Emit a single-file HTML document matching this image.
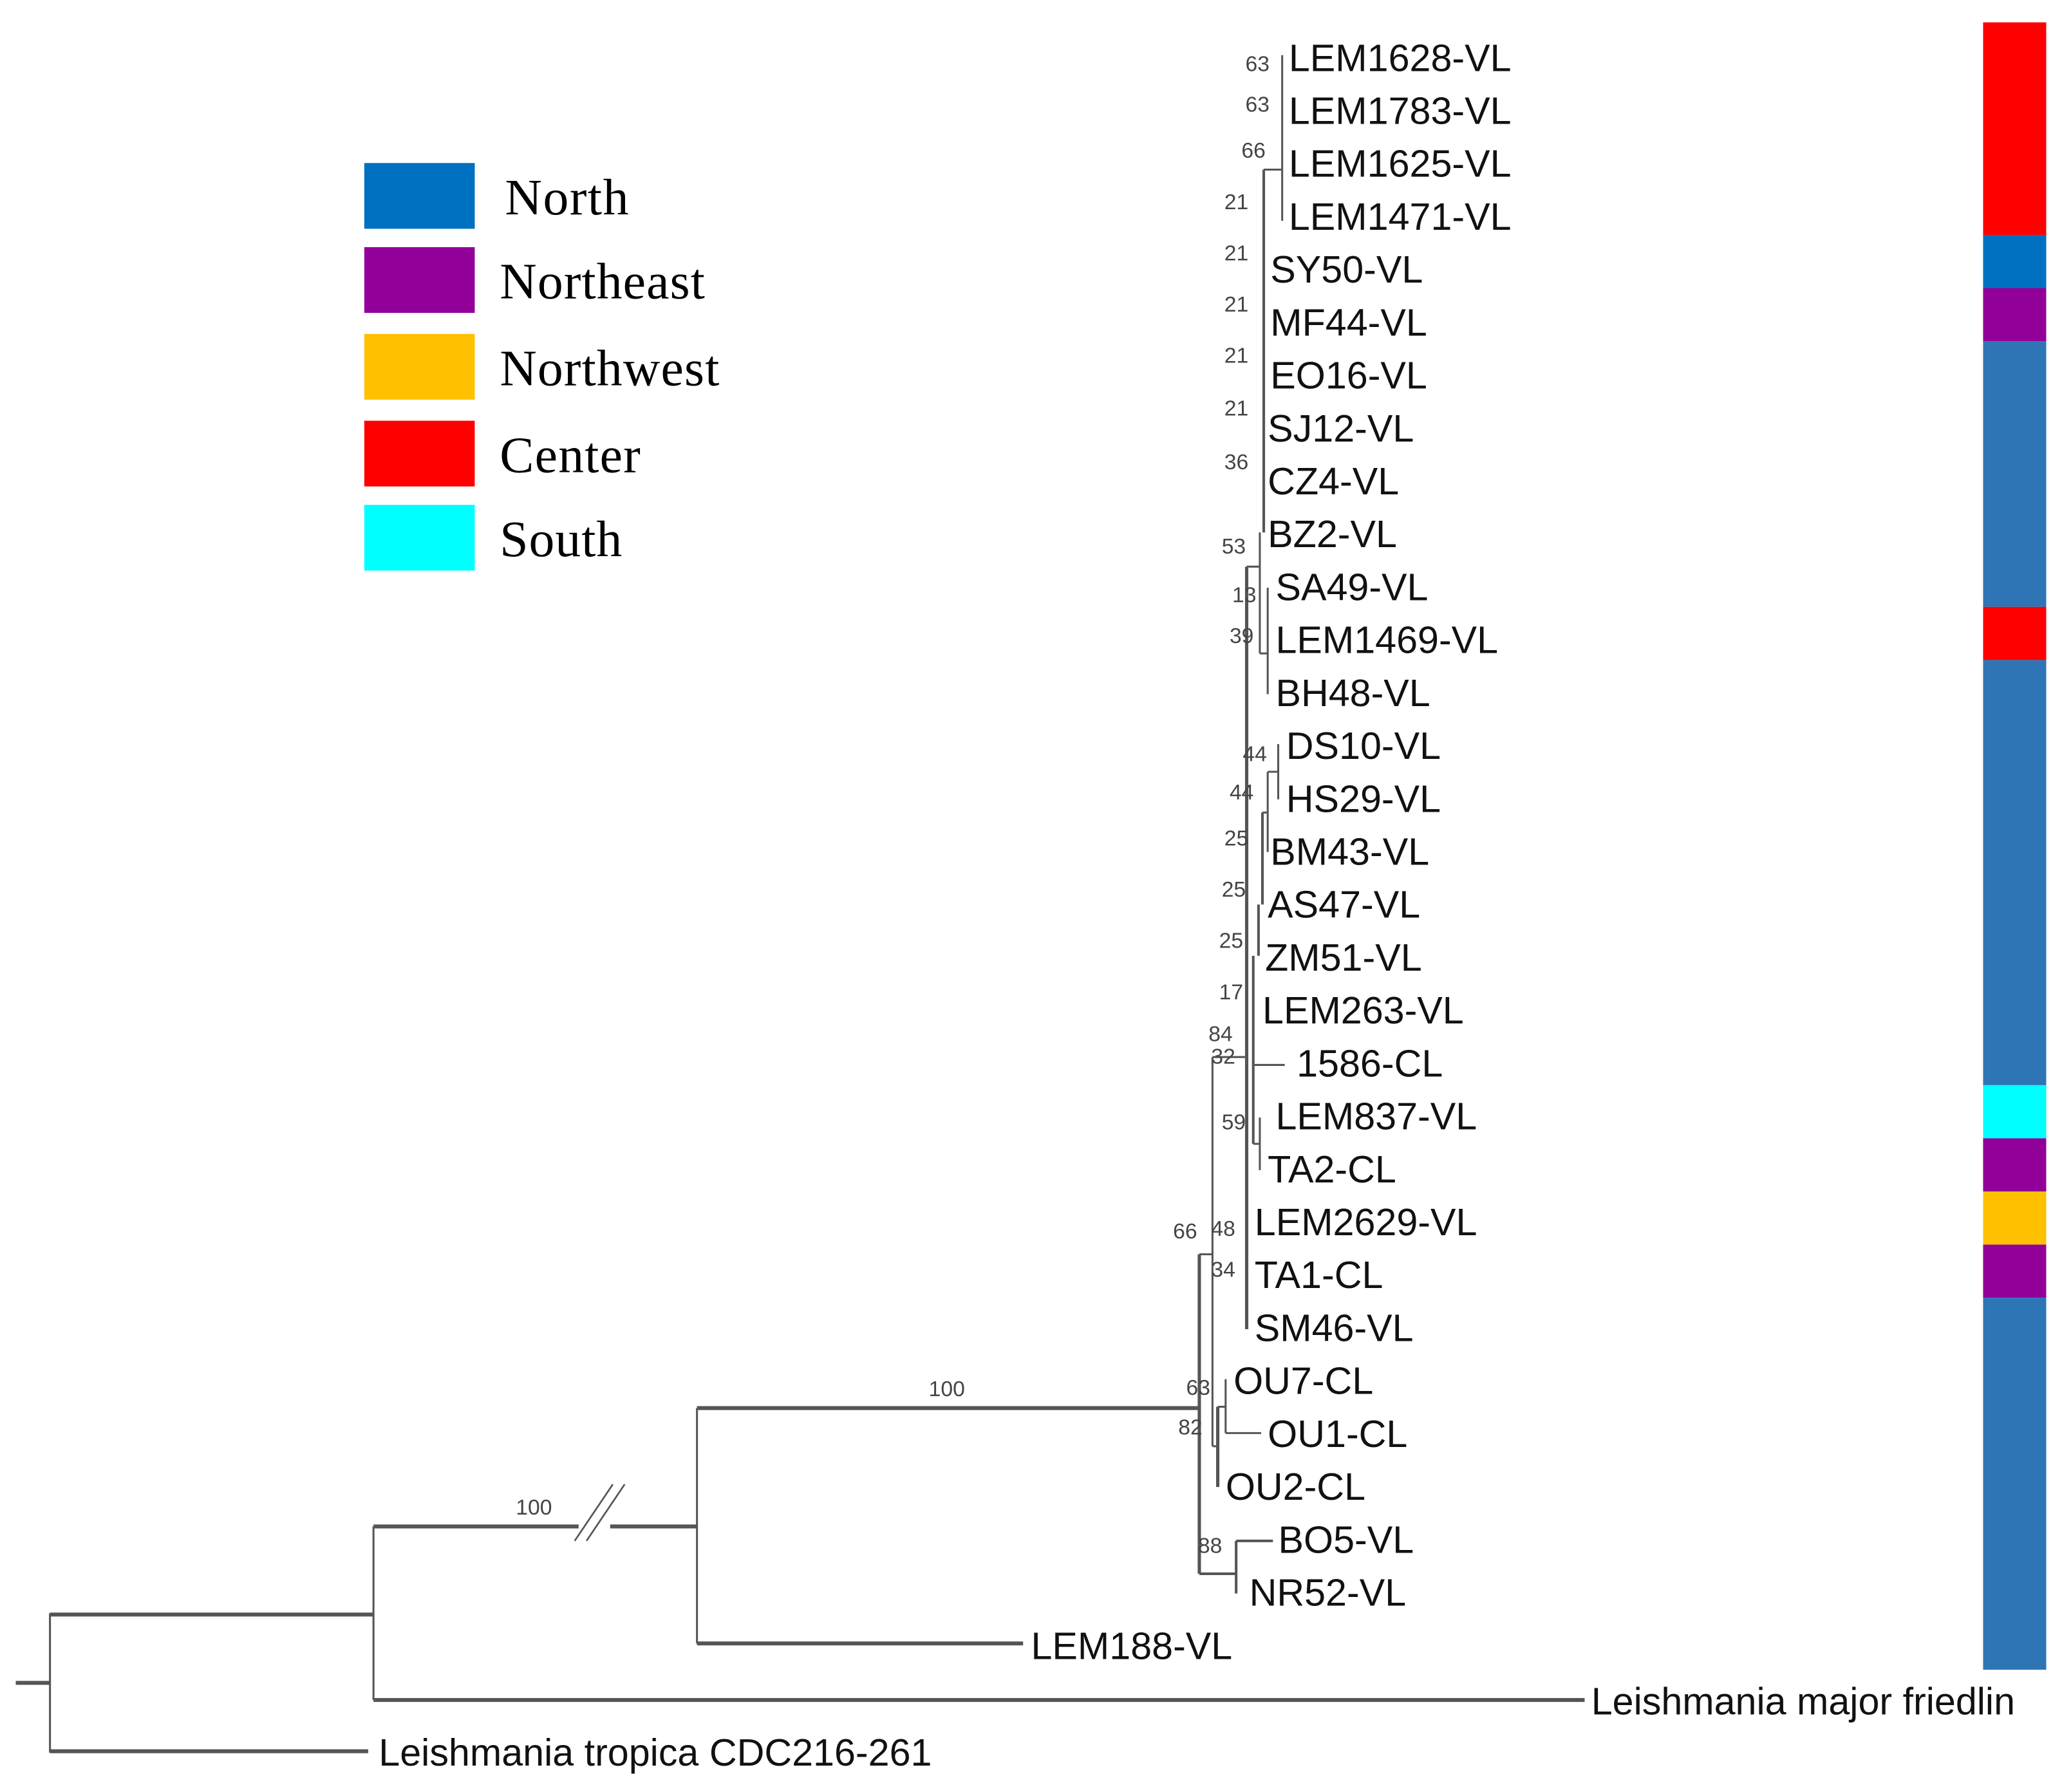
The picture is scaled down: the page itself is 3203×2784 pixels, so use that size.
<!DOCTYPE html>
<html><head><meta charset="utf-8">
<style>
html,body{margin:0;padding:0;background:#fff;}
svg{display:block;}
.leaf{font-family:"Liberation Sans",sans-serif;font-size:29px;fill:#111;}
.boot{font-family:"Liberation Sans",sans-serif;font-size:16.5px;fill:#444;}
.leg{font-family:"Liberation Serif",serif;font-size:39px;fill:#000;}
</style></head>
<body>
<svg id="chart" width="3203" height="2784" viewBox="0 0 1568 1363" preserveAspectRatio="none" xmlns="http://www.w3.org/2000/svg">
<g id="legend"></g>
<g id="branches" stroke="#555" fill="none"></g>
<g id="leaves"></g>
<g id="boots"></g>
<g id="colorbar"></g>
</svg>
<script>
const leafNames=["LEM1628-VL","LEM1783-VL","LEM1625-VL","LEM1471-VL","SY50-VL","MF44-VL","EO16-VL","SJ12-VL","CZ4-VL","BZ2-VL","SA49-VL","LEM1469-VL","BH48-VL","DS10-VL","HS29-VL","BM43-VL","AS47-VL","ZM51-VL","LEM263-VL","1586-CL","LEM837-VL","TA2-CL","LEM2629-VL","TA1-CL","SM46-VL","OU7-CL","OU1-CL","OU2-CL","BO5-VL","NR52-VL","LEM188-VL","Leishmania major friedlin","Leishmania tropica CDC216-261"];
const leafX=[980,980,980,980,966,966,966,964,964,964,970,970,970,978,978,966,964,962,960,986,970,964,954,954,954,938,964,932,972,950,784,1210,288];
const leafRegion=["Center","Center","Center","Center","North","Northeast","North","North","North","North","North","Center","North","North","North","North","North","North","North","North","South","Northeast","Northwest","Northeast","North","North","North","North","North","North","North",null,null];
const regionNames=["North","Northeast","Northwest","Center","South"];
const regionColors=["#0070c0","#92009a","#ffc000","#ff0000","#00ffff"];
const bootLabels=["63","63","66","21","21","21","21","21","36","53","13","39","44","44","25","25","25","17","84","32","59","66","48","34","63","82","88","100","100"];
const bootPos=[[947,48],[947,79],[944,114],[931,153],[931,192],[931,231],[931,270],[931,310],[931,351],[929,415],[937,452],[935,483],[945,573],[935,602],[931,637],[929,676],[927,715],[927,754],[919,786],[921,803],[929,853],[892,936],[921,934],[921,965],[902,1055],[896,1085],[911,1175],[720,1056],[406,1146]];

const SVGNS="http://www.w3.org/2000/svg";
const y0=44, dy=40.25;
function yOf(i){return y0+i*dy;}

const lg=document.getElementById('legend');
regionNames.forEach((n,i)=>{
  const ly=[124,188,254,320,384][i];
  const r=document.createElementNS(SVGNS,'rect');
  
  
  r.setAttribute('x',277);r.setAttribute('y',ly);r.setAttribute('width',84);r.setAttribute('height',50);
  r.setAttribute('fill',regionColors[i]);lg.appendChild(r);
  const t=document.createElementNS(SVGNS,'text');
  
  
  t.setAttribute('class','leg');t.setAttribute('x',i==0?384:380);t.setAttribute('y',ly+39);
  t.setAttribute('textLength',[94,156,167,107,93][i]);
  t.textContent=n;lg.appendChild(t);
});

const lv=document.getElementById('leaves');
leafNames.forEach((n,i)=>{
  const t=document.createElementNS(SVGNS,'text');
  
  
  t.setAttribute('class','leaf');
  let y=i<31?yOf(i):(i==31?1294:1333);
  if(i==30) y=1252;
  t.setAttribute('x',leafX[i]);t.setAttribute('y',y+10);
  t.textContent=n;lv.appendChild(t);
});

const bg=document.getElementById('boots');
bootLabels.forEach((b,i)=>{
  const t=document.createElementNS(SVGNS,'text');
  
  
  t.setAttribute('class','boot');
  t.setAttribute('x',bootPos[i][0]);t.setAttribute('y',bootPos[i][1]+6);
  t.setAttribute('text-anchor',i>=27?'middle':'start');
  t.textContent=b;bg.appendChild(t);
});

const br=document.getElementById('branches');
function ln(x1,y1,x2,y2,w){
  const l=document.createElementNS(SVGNS,'line');
  
  
  l.setAttribute('x1',x1);l.setAttribute('y1',y1);l.setAttribute('x2',x2);l.setAttribute('y2',y2);
  l.setAttribute('stroke-width',w||1.4);br.appendChild(l);
}
ln(12,1280,38,1280,3);
ln(38,1227,38,1333,1.5);
ln(38,1228,284,1228,3);ln(38,1332,280,1332,3);
ln(284,1161,284,1293,1.5);
ln(284,1161,440,1161,3);ln(464,1161,530,1161,3);
ln(437,1172,466,1129,1.3);ln(446,1172,475,1129,1.3);
ln(284,1293,1205,1293,3);
ln(530,1071,530,1250,1.5);
ln(530,1071,912,1071,3);ln(530,1250,778,1250,3);
ln(912,954,912,1197,2.5);
ln(912,954,922,954,1.5);
ln(922,804,922,1100,1.5);
ln(922,1100,926,1100,1.5);
ln(926,1070,926,1131,2.5);
ln(926,1070,932,1070,1.5);
ln(932,1049,932,1090,1.5);
ln(932,1090,959,1090,1.5);
ln(912,1197,940,1197,2);
ln(940,1172,940,1212,2);
ln(940,1172,968,1172,2);
ln(922,804,948,804,1.5);
ln(948,431,948,1011,2.5);
ln(948,431,958,431,1.5);
ln(961,129,961,405,2);
ln(958,405,958,497,1.5);
ln(961,129,975,129,1.5);
ln(975,42,975,168,1.5);
ln(958,497,964,497,1.5);
ln(964,447,964,528,1.5);
ln(953,727,953,870,2);
ln(957,688,957,727,2);
ln(960,618,960,688,2);
ln(960,618,964,618,1.5);
ln(964,587,964,648,1.5);
ln(964,587,972,587,1.5);
ln(972,566,972,608,1.5);
ln(953,810,977,810,1.5);
ln(953,870,958,870,1.5);
ln(958,850,958,890,1.5);

const cb=document.getElementById('colorbar');
const barTop=17, barBot=1270;
const unit=(barBot-barTop)/31;
let k=0;
while(k<31){
  let j=k;while(j+1<31&&leafRegion[j+1]==leafRegion[k])j++;
  let ya=barTop+k*unit, yb=barTop+(j+1)*unit;
  const r=document.createElementNS(SVGNS,'rect');
  
  
  r.setAttribute('x',1508);r.setAttribute('y',ya);r.setAttribute('width',48);r.setAttribute('height',yb-ya);
  let c=regionColors[regionNames.indexOf(leafRegion[k])];
  if(leafRegion[k]=="North"&&k!=4)c="#2e75b6";
  r.setAttribute('fill',c);cb.appendChild(r);
  k=j+1;
}
</script>
</body></html>
